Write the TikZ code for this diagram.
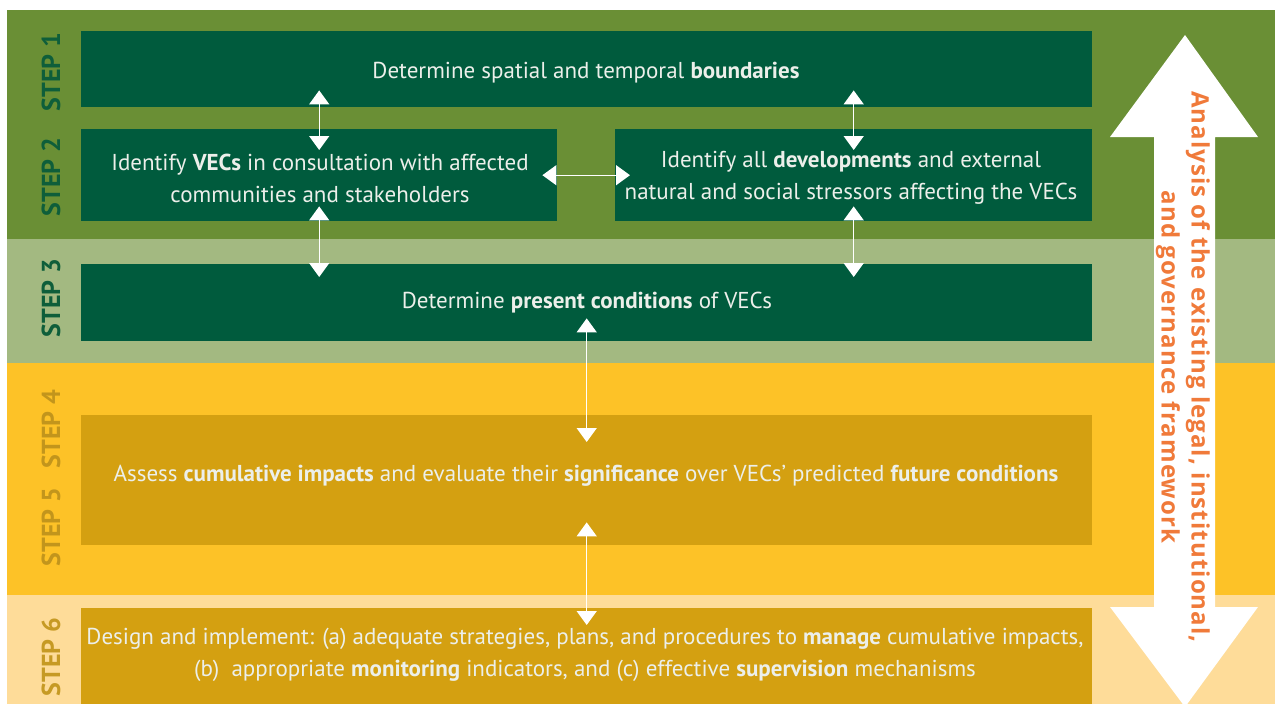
\documentclass[tikz,border=0pt]{standalone}
\usepackage{fontspec}
\setmainfont{PT Sans}
\newfontfamily\arrowfont[LetterSpace=4.5]{Open Sans}
\usetikzlibrary{arrows.meta,calc}
\definecolor{bandA}{HTML}{6A8F35}
\definecolor{bandB}{HTML}{A3B981}
\definecolor{bandC}{HTML}{FDC227}
\definecolor{bandD}{HTML}{FEDC99}
\definecolor{boxG}{HTML}{005B3D}
\definecolor{boxY}{HTML}{D4A011}
\definecolor{stepG}{HTML}{0E5E3A}
\definecolor{stepY}{HTML}{C2951C}
\definecolor{stepY2}{HTML}{C69A24}
\definecolor{txt}{HTML}{ECEFEA}
\definecolor{orangeT}{HTML}{F07A3A}
\tikzset{
  boxg/.style={fill=boxG, draw=none, inner sep=0pt, anchor=north west},
  boxy/.style={fill=boxY, draw=none, inner sep=0pt, anchor=north west},
  boxtext/.style={text=txt, font=\fontsize{23}{32}\selectfont, align=center},
  steplabel/.style={rotate=90, font=\bfseries\fontsize{26}{30}\selectfont},
  dbl/.style={white, line width=1.4pt, {Triangle[width=20pt,length=14pt]}-{Triangle[width=20pt,length=14pt]}},
}
\begin{document}
\begin{tikzpicture}[x=1pt,y=-1pt]
\useasboundingbox (0,0) rectangle (1275,709);
\fill[white] (0,0) rectangle (1275,709);
% bands
\fill[bandA] (7,10) rectangle (1275,239);
\fill[bandB] (7,239) rectangle (1275,363);
\fill[bandC] (7,363) rectangle (1275,595);
\fill[bandD] (7,595) rectangle (1275,704);
% boxes
\node[boxg, minimum width=1011pt, minimum height=76pt] (b1) at (81,31) {};
\node[boxg, minimum width=476pt, minimum height=92pt] (b2l) at (81,129) {};
\node[boxg, minimum width=477pt, minimum height=92pt] (b2r) at (615,129) {};
\node[boxg, minimum width=1011pt, minimum height=77pt] (b3) at (81,264) {};
\node[boxy, minimum width=1011pt, minimum height=130pt] (b45) at (81,415) {};
\node[boxy, minimum width=1011pt, minimum height=96pt] (b6) at (81,608) {};
% texts
\node[boxtext] (t1) at (586,73) {Determine spatial and temporal \textbf{boundaries}};
\node[boxtext] (t2l) at (320,178) {Identify \textbf{VECs} in consultation with affected\\communities and stakeholders};
\node[boxtext] (t2r) at (851,178) {Identify all \textbf{developments} and external\\natural and social stressors affecting the VECs};
\node[boxtext] (t3) at (587,303) {Determine \textbf{present conditions} of VECs};
\node[boxtext] (t45) at (586,476) {Assess \textbf{cumulative impacts} and evaluate their \textbf{significance} over VECs’ predicted \textbf{future conditions}};
\node[boxtext] (t6) at (585,655) {Design and implement: (a) adequate strategies, plans, and procedures to \textbf{manage} cumulative impacts,\\(b)\ \ appropriate \textbf{monitoring} indicators, and (c) effective \textbf{supervision} mechanisms};
% step labels
\node[steplabel, text=stepG] (s1) at (51,72) {STEP 1};
\node[steplabel, text=stepG] (s2) at (51,177) {STEP 2};
\node[steplabel, text=stepG] (s3) at (51,298) {STEP 3};
\node[steplabel, text=stepY] (s4) at (51,429) {STEP 4};
\node[steplabel, text=stepY] (s5) at (51,527) {STEP 5};
\node[steplabel, text=stepY2] (s6) at (51,657) {STEP 6};
% small arrows
\draw[dbl, shorten <=-17pt, shorten >=-21pt] (b2l.north |- b1.south) -- (b2l.north);
\draw[dbl, shorten <=-17pt, shorten >=-21pt] (b2r.north |- b1.south) -- (b2r.north);
\draw[dbl, shorten <=-15pt, shorten >=-13pt] (b2l.south) -- (b2l.south |- b3.north);
\draw[dbl, shorten <=-15pt, shorten >=-13pt] (b2r.south) -- (b2r.south |- b3.north);
\draw[dbl, shorten <=-15pt, shorten >=-15pt] (b2l.east) -- (b2r.west);
\draw[dbl, shorten <=-23pt, shorten >=-27pt] (b3.south) -- (b45.north);
\draw[dbl, shorten <=-23pt, shorten >=-17pt] (b45.south) -- (b6.north);
% big double arrow
\fill[white] (1185,35) -- (1258,137) -- (1215,137) -- (1215,607) -- (1258,607) -- (1185,707) -- (1110,607) -- (1154,607) -- (1154,137) -- (1110,137) -- cycle;
\node[rotate=-90, text=orangeT, font=\arrowfont\bfseries\fontsize{24}{30}\selectfont, align=center] (frame) at (1183,367) {Analysis of the existing legal, institutional,\\and governance framework};
\end{tikzpicture}
\end{document}
